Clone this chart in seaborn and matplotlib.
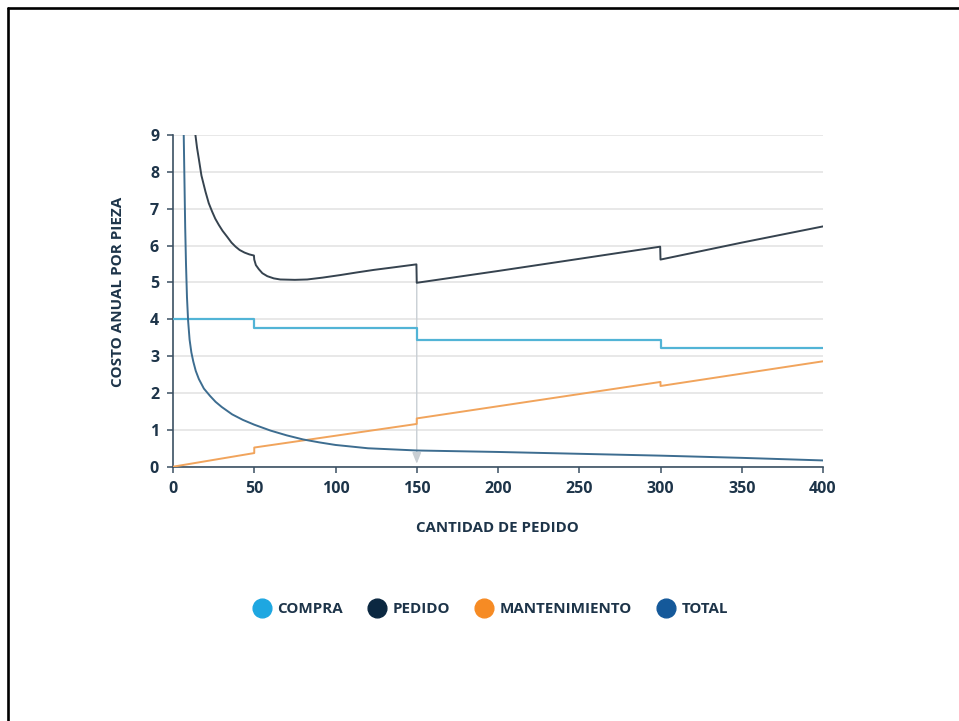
import numpy as np
import pandas as pd
import matplotlib
matplotlib.use("Agg")
import matplotlib.pyplot as plt
from matplotlib.lines import Line2D
import seaborn as sns

# ---- data -------------------------------------------------------------
# purchase cost per unit (step at each price break)
compra_q = [0, 50, 50, 150, 150, 300, 300, 400]
compra_c = [4.00, 4.00, 3.75, 3.75, 3.44, 3.44, 3.21, 3.21]

# holding cost per unit
mant_q = [0, 50, 50, 150, 150, 300, 300, 400]
mant_c = [0.00, 0.37, 0.52, 1.16, 1.31, 2.30, 2.19, 2.86]

# ordering cost per unit
pedido_q = [6.3, 6.6, 7.0, 7.5, 8.0, 8.6, 9.3, 10.2, 11.3, 12.5, 14.0, 15.9,
            19, 22.8, 26.2, 30, 36.4, 43, 50, 60, 70, 80, 90, 100, 120, 150,
            200, 250, 300, 350, 400]
pedido_c = [9.8, 9.0, 7.9, 6.5, 5.5, 4.6, 3.96, 3.45, 3.10, 2.85, 2.60, 2.38,
            2.12, 1.92, 1.76, 1.62, 1.42, 1.27, 1.14, 0.98, 0.85, 0.74, 0.66,
            0.59, 0.50, 0.44, 0.40, 0.35, 0.30, 0.24, 0.17]

# total cost per unit
total_q = [12.5, 13.8, 14.8, 15.9, 17.5, 20, 22, 24.1, 26, 28.2, 30.5, 33.3,
           36, 38.5, 41, 44, 47, 49.8, 50, 51, 52.8, 55, 58, 62, 66, 75, 82.6,
           92, 103, 113, 123.6, 136, 149.8, 150, 200, 250, 299.8, 300, 350,
           400]
total_c = [9.6, 9.0, 8.65, 8.35, 7.90, 7.46, 7.15, 6.92, 6.73, 6.56, 6.40,
           6.24, 6.08, 5.97, 5.88, 5.81, 5.76, 5.73, 5.62, 5.47, 5.36, 5.25,
           5.17, 5.11, 5.08, 5.07, 5.08, 5.13, 5.20, 5.27, 5.34, 5.41, 5.49,
           4.99, 5.31, 5.64, 5.97, 5.62, 6.08, 6.52]

legend_labels = ["COMPRA", "PEDIDO", "MANTENIMIENTO", "TOTAL"]
legend_colors = ["#1ea7e1", "#0b2841", "#f68b24", "#15599a"]

x_ticks = [0, 50, 100, 150, 200, 250, 300, 350, 400]
y_ticks = list(range(0, 10))
optimal_q = 150

# ---- style ------------------------------------------------------------
sns.set_theme(style="white")
plt.rcParams["font.family"] = ["Open Sans", "DejaVu Sans"]
ink = "#1d3449"
spine_c = "#3b5062"

fig = plt.figure(figsize=(9.59, 7.21), dpi=100)
ax = fig.add_axes([173 / 959, 1 - 466.7 / 721, 650 / 959, 331.7 / 721])

ax.set_xlim(0, 400)
ax.set_ylim(0, 9)
ax.set_yticks(y_ticks)
ax.set_xticks(x_ticks)
ax.yaxis.grid(True, color="#e4e4e4", lw=1.2)
ax.xaxis.grid(False)
ax.set_axisbelow(True)

for side in ("top", "right"):
    ax.spines[side].set_visible(False)
for side in ("left", "bottom"):
    ax.spines[side].set_color(spine_c)
    ax.spines[side].set_linewidth(1.2)

ax.tick_params(axis="both", which="major", length=4, width=1.1,
               color=spine_c, labelcolor=ink, labelsize=11.5, pad=6,
               bottom=True, left=True)
for lab in ax.get_xticklabels() + ax.get_yticklabels():
    lab.set_fontweight("bold")

# highlight of the chosen order quantity
top_at_opt = min(c for q, c in zip(total_q, total_c) if q == optimal_q)
ax.annotate("", xy=(optimal_q, 0.08), xytext=(optimal_q, top_at_opt),
            arrowprops=dict(arrowstyle="-|>,head_length=0.55,head_width=0.22",
                            color="#c9cfd4", lw=1.0, shrinkA=0, shrinkB=0),
            zorder=1)

series = [
    (compra_q, compra_c, "#52b4d6", 1.6),
    (mant_q, mant_c, "#f1a45c", 1.4),
    (pedido_q, pedido_c, "#3d6d90", 1.4),
    (total_q, total_c, "#36434f", 1.4),
]
for q, c, col, lw in series:
    df = pd.DataFrame({"cantidad": q, "costo": c})
    sns.lineplot(data=df, x="cantidad", y="costo", estimator=None, sort=False,
                 color=col, linewidth=lw, legend=False, ax=ax, zorder=3)

ax.set_xlabel("")
ax.set_ylabel("")
fig.text(497 / 959, 1 - 528 / 721, "CANTIDAD DE PEDIDO", ha="center",
         va="center", fontsize=10.8, fontweight="bold", color=ink)
fig.text(118.5 / 959, 1 - 292 / 721, "COSTO ANUAL POR PIEZA", ha="center",
         va="center", rotation=90, fontsize=11, fontweight="bold", color=ink)

handles = [Line2D([], [], marker="o", linestyle="", markersize=13.5,
                  markerfacecolor=c, markeredgecolor=c) for c in legend_colors]
leg = fig.legend(handles, legend_labels, loc="center", ncol=4,
                 bbox_to_anchor=(491 / 959, 1 - 609 / 721), frameon=False,
                 handlelength=1.0, handletextpad=0.55, columnspacing=1.72,
                 prop={"weight": "bold", "size": 10.9})
for t in leg.get_texts():
    t.set_color(ink)

# outer frame (top and left edges)
fig.add_artist(Line2D([7.5 / 959, 1.0], [1 - 7.8 / 721, 1 - 7.8 / 721],
                      transform=fig.transFigure, color="black", lw=1.9))
fig.add_artist(Line2D([7.5 / 959, 7.5 / 959], [0.0, 1 - 7.8 / 721],
                      transform=fig.transFigure, color="black", lw=1.9))

fig.savefig("out.png", dpi=100, facecolor="white")
